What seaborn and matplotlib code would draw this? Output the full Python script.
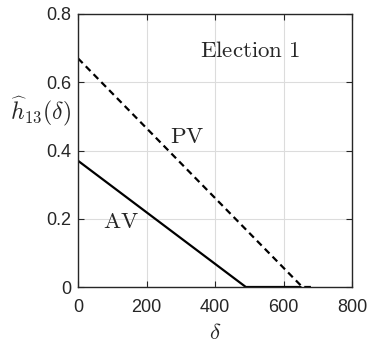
import matplotlib
matplotlib.use('Agg')
import matplotlib.pyplot as plt
import seaborn as sns
import pandas as pd

# values
av_delta = [0, 490, 650]
av_h = [0.37, 0.0, 0.0]
pv_delta = [0, 655, 685]
pv_h = [0.67, 0.0, 0.0]
x_ticks = [0, 200, 400, 600, 800]
y_ticks = [0, 0.2, 0.4, 0.6, 0.8]
y_tick_labels = ['0', '0.2', '0.4', '0.6', '0.8']

sns.set_theme(style='whitegrid')
plt.rcParams['font.family'] = ['Liberation Sans', 'DejaVu Sans']
plt.rcParams['mathtext.fontset'] = 'cm'

df_av = pd.DataFrame({'delta': av_delta, 'h': av_h})
df_pv = pd.DataFrame({'delta': pv_delta, 'h': pv_h})

fig = plt.figure(figsize=(3.68, 3.45), dpi=100)
ax = fig.add_axes([78 / 368, 58 / 345, 274 / 368, 273 / 345])

sns.lineplot(data=df_av, x='delta', y='h', ax=ax, color='black', lw=1.6)
sns.lineplot(data=df_pv, x='delta', y='h', ax=ax, color='black', lw=1.6,
             linestyle=(0, (3, 2)))

ax.set_xlim(0, 800)
ax.set_ylim(0, 0.8)
ax.set_xticks(x_ticks)
ax.set_yticks(y_ticks)
ax.set_xticklabels([str(t) for t in x_ticks])
ax.set_yticklabels(y_tick_labels)
ax.set_facecolor('white')
ax.grid(True, color='#dcdcdc', lw=0.8)
ax.tick_params(axis='both', direction='in', length=4, width=0.8, colors='#262626',
               labelsize=13, top=True, right=True, left=True, bottom=True)
ax.tick_params(axis='x', pad=9)
ax.tick_params(axis='y', pad=5)
for name, sp in ax.spines.items():
    sp.set_visible(True)
    sp.set_linewidth(1.0)
    sp.set_color('#262626')

ax.set_xlabel(r'$\delta$', fontsize=16.5, va='top')
ax.xaxis.set_label_coords(0.5, -0.125)
ax.set_ylabel(r'$\widehat{h}_{13}(\delta)$', fontsize=17, rotation=0,
              ha='right', va='center')
ax.yaxis.set_label_coords(-0.026, 0.64)

ax.text(501, 0.675, r'$\mathrm{Election\ 1}$', fontsize=16.5, ha='center', va='baseline')
ax.text(318, 0.421, r'$\mathrm{PV}$', fontsize=16.5, ha='center', va='baseline')
ax.text(125, 0.173, r'$\mathrm{AV}$', fontsize=16.5, ha='center', va='baseline')

fig.savefig('out.png', dpi=100)
